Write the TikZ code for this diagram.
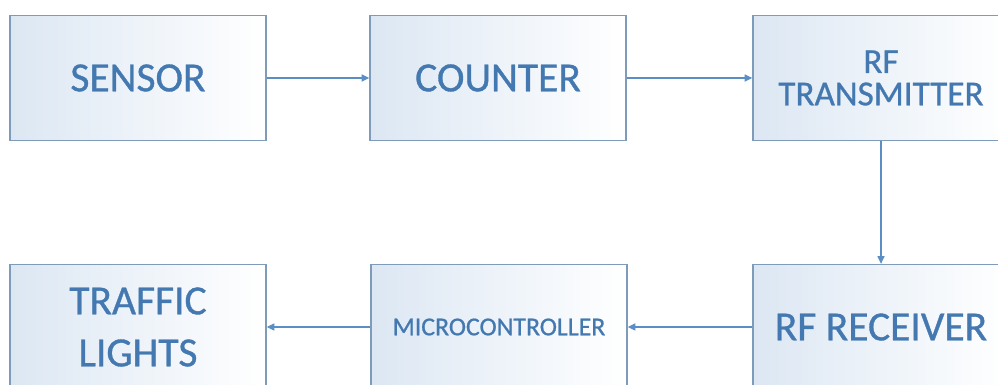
\documentclass[tikz,border=0pt]{standalone}
\usepackage{fontspec}
\setmainfont[FakeBold=0.8]{Carlito}
\usetikzlibrary{arrows.meta, positioning}
\definecolor{txtblue}{HTML}{4379B0}
\definecolor{edgeblue}{HTML}{7E9CBA}
\definecolor{arrblue}{HTML}{5A8EC4}
\definecolor{boxfill}{HTML}{DCE7F3}

\begin{document}
\begin{tikzpicture}[
  x=0.025cm, y=-0.025cm,
  block/.style={draw=edgeblue, line width=0.9pt, left color=boxfill, right color=white,
    minimum width=6.4cm, minimum height=3.125cm, inner sep=0pt,
    text=txtblue, align=center},
  arr/.style={-{Triangle[length=5.5pt, width=5pt]}, line width=0.9pt, arrblue},
]
\clip (0,0) rectangle (998,385);
\fill[white] (0,0) rectangle (998,385);

% Top row
\node[block, font=\fontsize{29.5}{30}\selectfont] (sensor) at (138,78) {SENSOR};
\node[block, font=\fontsize{29.5}{30}\selectfont] (counter) at (498,78) {COUNTER};
\node[block, font=\fontsize{25}{23}\selectfont] (rftx) at (881,78) {RF\\TRANSMITTER};

% Bottom row
\node[block, font=\fontsize{29.5}{37}\selectfont] (traffic) at (138,327) {TRAFFIC\\LIGHTS};
\node[block, font=\fontsize{18.4}{20}\selectfont] (micro) at (499,327) {MICROCONTROLLER};
\node[block, font=\fontsize{29.5}{30}\selectfont] (rfrx) at (881,327) {RF RECEIVER};

% Arrows
\draw[arr] (sensor) -- (counter);
\draw[arr] (counter) -- (rftx);
\draw[arr] (rftx) -- (rfrx);
\draw[arr] (rfrx) -- (micro);
\draw[arr] (micro) -- (traffic);

\end{tikzpicture}
\end{document}
